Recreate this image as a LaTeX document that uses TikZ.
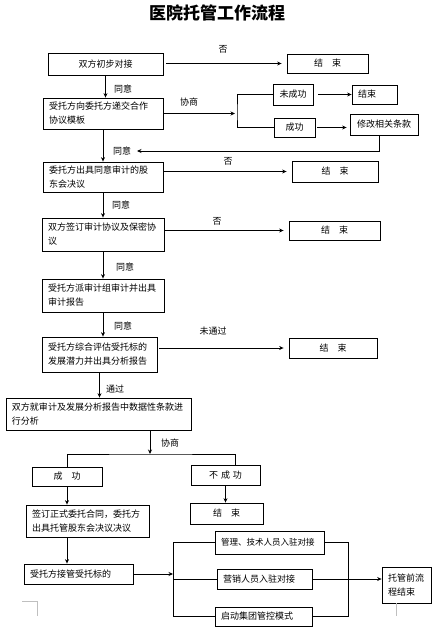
\documentclass[tikz,border=0pt]{standalone}
\usepackage{fontspec}
\newfontfamily\cjk{Noto Sans CJK SC}
\usetikzlibrary{arrows.meta}
\tikzset{
  box/.style={draw,line width=.8pt,inner xsep=6pt,inner ysep=2pt,align=left,font=\cjk\fontsize{9}{14}\selectfont},
  cbox/.style={box,align=center},
  lbl/.style={inner sep=0pt,font=\cjk\fontsize{9}{11}\selectfont},
  arr/.style={line width=.8pt,-{Stealth[length=4.5pt,width=4pt]}},
  ln/.style={line width=.8pt}
}
\begin{document}
\begin{tikzpicture}[x=1pt,y=-1pt]
\useasboundingbox (0,0) rectangle (437,634);
\node[font=\cjk\bfseries\fontsize{17}{20}\selectfont] (title) at (217,13) {医院托管工作流程};

\node[cbox,text width=103pt,minimum height=22pt] (b1) at (105.5,64) {双方初步对接};
\node[cbox,text width=69pt,minimum height=19pt] (e1) at (327.5,63.5) {结　束};
\node[box,text width=108pt,minimum height=31pt] (b2) at (103,113.5) {受托方向委托方递交合作\\协议模板};
\node[cbox,text width=28pt,minimum height=21pt] (f1) at (293,94.5) {未成功};
\node[box,text width=33pt,minimum height=19pt] (e2) at (374.5,94.5) {结束};
\node[cbox,text width=29pt,minimum height=19pt] (s1) at (294.5,127.5) {成功};
\node[cbox,text width=56pt,minimum height=21pt] (m1) at (384,124.5) {修改相关条款};
\node[box,text width=108pt,minimum height=30pt] (b3) at (103,177) {委托方出具同意审计的股\\东会决议};
\node[cbox,text width=74pt,minimum height=21pt] (e3) at (335,171.5) {结　束};
\node[box,text width=110pt,minimum height=33pt] (b4) at (103,234.5) {双方签订审计协议及保密协\\议};
\node[cbox,text width=79pt,minimum height=19pt] (e4) at (334.5,230.5) {结　束};
\node[box,text width=110pt,minimum height=33pt] (b5) at (103,295.5) {受托方派审计组审计并出具\\审计报告};
\node[box,text width=103pt,minimum height=35pt] (b6) at (99.5,354.5) {受托方综合评估受托标的\\发展潜力并出具分析报告};
\node[cbox,text width=76pt,minimum height=20pt] (e5) at (333,348) {结　束};
\node[box,text width=173pt,minimum height=32pt] (b7) at (98.5,414) {双方就审计及发展分析报告中数据性条款进\\行分析};
\node[cbox,text width=58pt,minimum height=19pt] (ok1) at (67,476.5) {成　功};
\node[cbox,text width=57pt,minimum height=20pt] (no1) at (225.5,475) {不 成 功};
\node[cbox,text width=61pt,minimum height=21pt] (e6) at (226.5,513.5) {结　束};
\node[box,text width=111pt,minimum height=32pt] (b8) at (87.5,521) {签订正式委托合同，委托方\\出具托管股东会决议决议};
\node[box,text width=97pt,minimum height=20pt] (b9) at (78.5,574) {受托方接管受托标的};
\node[box,text width=97pt,minimum height=23pt,font=\cjk\fontsize{8.5}{12}\selectfont] (t1) at (269.5,542.5) {管理、技术人员入驻对接};
\node[box,text width=83pt,minimum height=20pt] (t2) at (264.5,579) {营销人员入驻对接};
\node[box,text width=85pt,minimum height=19pt] (t3) at (263.5,616.5) {启动集团管控模式};
\node[box,text width=37pt,minimum height=36pt] (fin) at (406.5,585) {托管前流\\程结束};

\coordinate (k1) at (237,113.5);
\coordinate (r1) at (137,151);
\coordinate (j1) at (150,454);
\coordinate (k2) at (173,574);
\coordinate (k3) at (348,581);

\foreach \x/\y/\t [count=\i] in {223/49/否,123/89/同意,189/102/协商,122/151/同意,228/161/否,121/205/同意,217/221/否,125/267/同意,123/326/同意,213/331/未通过,115/389/通过,170/443/协商}
  \node[lbl] (lab\i) at (\x,\y) {\t};

\draw[arr,shorten <=3pt,shorten >=5pt] (b1.east |- e1) -- (e1.west);
\draw[arr] (b1.south) -- (b1.south |- b2.north);
\draw[arr,shorten >=2pt] (b2.east) -- (k1);
\draw[ln] (f1.west) -| (k1) |- (s1.west);
\draw[arr,shorten <=5pt] (f1.east) -- (e2.west);
\draw[arr,shorten <=2pt,shorten >=3pt] (s1.east) -- (s1.east -| m1.west);
\draw[arr] ([xshift=-5pt]m1.south) |- (r1);
\draw[arr] (b2.south) -- (b2.south |- b3.north);
\draw[arr,shorten >=5pt] (b3.east |- e3) -- (e3.west);
\draw[arr] (b3.south) -- (b3.south |- b4.north);
\draw[arr,shorten >=5pt] (b4.east |- e4) -- (e4.west);
\draw[arr] (b4.south) -- (b4.south |- b5.north);
\draw[arr] (b5.south) -- (b5.south |- b6.north);
\draw[arr,shorten <=2pt,shorten >=5pt] (b6.east |- e5) -- (e5.west);
\draw[arr] (b6.south) -- (b6.south |- b7.north);
\draw[arr] (j1 |- b7.south) -- (j1);
\draw[ln] (ok1.north) |- (j1) -| ([xshift=10pt]no1.north);
\draw[arr] (ok1.south) -- (ok1.south |- b8.north);
\draw[arr] (no1.south) -- (no1.south |- e6.north);
\draw[arr] (ok1.south |- b8.south) -- (ok1.south |- b9.north);
\draw[arr] (b9.east) -- (k2);
\draw[ln] (t1.west) -| (k2 |- t3.west) -- (t3.west);
\draw[ln] (k2 |- t2.west) -- (t2.west);
\draw[ln] (t1.east) -| (k3 |- t3.east) -- (t3.east);
\draw[arr] (t2.east) -- (t2.east -| fin.west);

\draw[gray!50] (22,601) -- (37,601) -- (37,616);
\draw[gray!50] (396,603) -- (396,616);
\end{tikzpicture}
\end{document}
